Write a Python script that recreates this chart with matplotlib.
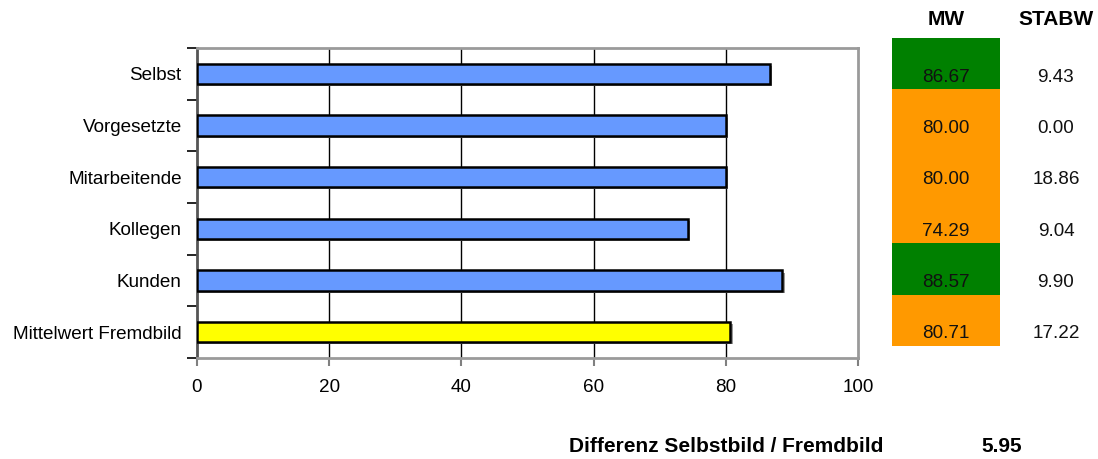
import matplotlib
matplotlib.use("Agg")
import matplotlib.pyplot as plt
import matplotlib.patheffects as pe

plt.rcParams['font.family'] = ['Liberation Sans', 'DejaVu Sans']

categories = ["Selbst", "Vorgesetzte", "Mitarbeitende", "Kollegen", "Kunden", "Mittelwert Fremdbild"]
mw = [86.67, 80.00, 80.00, 74.29, 88.57, 80.71]
stabw = [9.43, 0.00, 18.86, 9.04, 9.90, 17.22]
x_ticks = [0, 20, 40, 60, 80, 100]
differenz = 5.95
diff_label = "Differenz Selbstbild / Fremdbild"

W, H = 1098, 459
fig = plt.figure(figsize=(W / 100, H / 100), dpi=100)

def px_axes(x0, y0, x1, y1):
    return fig.add_axes([x0 / W, 1 - y1 / H, (x1 - x0) / W, (y1 - y0) / H])

FS = 13.6
FSB = 15.0
BLUE = "#6699FF"
YELLOW = "#FFFF00"
GREEN = "#008000"
ORANGE = "#FF9900"

ax = px_axes(197, 48, 858, 358)
rows = list(range(len(categories)))
colors = [BLUE] * (len(categories) - 1) + [YELLOW]
shadow = [pe.SimplePatchShadow(offset=(1.5, -1.5), shadow_rgbFace="#999999", alpha=1.0), pe.Normal()]
bars = ax.barh(rows, mw, height=0.39, color=colors, edgecolor="black", linewidth=1.8, zorder=3)
for b in bars:
    b.set_path_effects(shadow)

ax.set_xlim(0, 100)
ax.set_ylim(len(categories) - 0.5, -0.5)
ax.set_xticks(x_ticks)
ax.set_xticklabels([str(t) for t in x_ticks], fontsize=FS)
ax.set_yticks(rows)
ax.set_yticklabels(categories, fontsize=FS)
ax.tick_params(axis='y', length=0, pad=11)
ax.set_yticks([r - 0.5 for r in rows] + [len(categories) - 0.5], minor=True)
ax.tick_params(axis='y', which='minor', length=7, width=1.2, color="black")
ax.tick_params(axis='x', length=6, width=1.5, color="#808080", pad=9)
for t in x_ticks[1:-1]:
    ax.axvline(t, color="black", linewidth=1.0, zorder=1)
for s in ["top", "right", "bottom"]:
    ax.spines[s].set_color("#9a9a9a")
    ax.spines[s].set_linewidth(2)
ax.spines["left"].set_color("#555555")
ax.spines["left"].set_linewidth(2)

# table of values
tab = px_axes(892, 38, 1098, 346)
tab.set_xlim(0, 206)
tab.set_ylim(len(categories), 0)
tab.axis("off")
cell_colors = [GREEN if v > 85 else ORANGE for v in mw]
tab.barh(rows, [108] * len(rows), left=0, height=1.0, align='edge', color=cell_colors, linewidth=0)
for r, (m, s) in enumerate(zip(mw, stabw)):
    tab.text(54, r + 0.76, f"{m:.2f}", ha="center", va="center", fontsize=FS, color="#111111")
    tab.text(164, r + 0.76, f"{s:.2f}", ha="center", va="center", fontsize=FS, color="#111111")
tab.text(54, -0.36, "MW", ha="center", va="center", fontsize=FSB, fontweight="bold", clip_on=False)
tab.text(164, -0.36, "STABW", ha="center", va="center", fontsize=FSB, fontweight="bold", clip_on=False)

fig.text(569 / W, 1 - 446 / H, diff_label, ha="left", va="center", fontsize=FSB, fontweight="bold")
fig.text(1002 / W, 1 - 446 / H, f"{differenz:.2f}", ha="center", va="center", fontsize=FSB, fontweight="bold")

fig.savefig("out.png", dpi=100)
